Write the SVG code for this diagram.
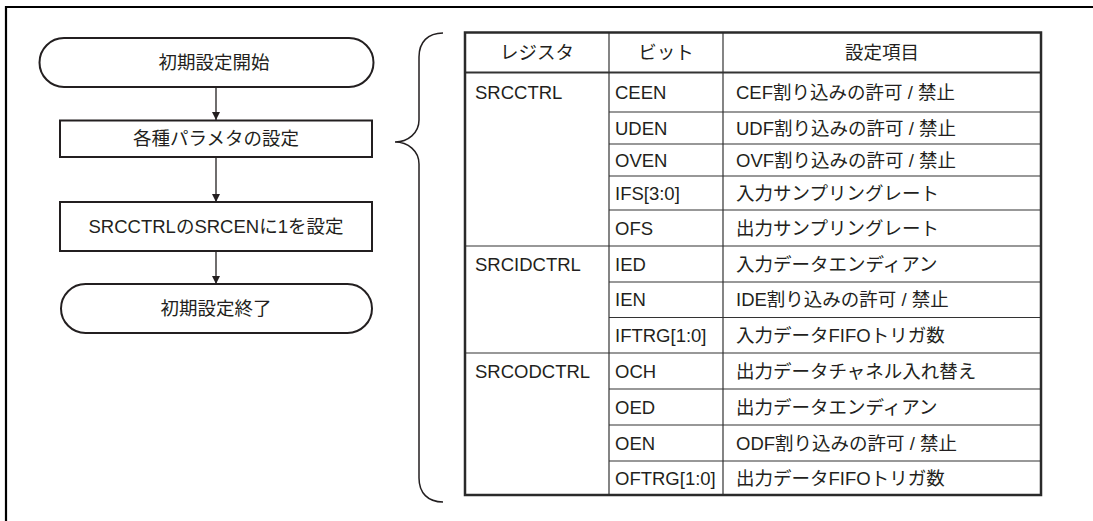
<svg xmlns="http://www.w3.org/2000/svg" width="1093" height="521" viewBox="0 0 1093 521">
<style>
text{font-family:"Liberation Sans","Noto Sans CJK JP",sans-serif;font-size:18.5px;fill:#231f20}
.c{text-anchor:middle}
.shape{fill:#fff;stroke:#231f20;stroke-width:2}
.conn{stroke:#231f20;stroke-width:1.3;fill:none}
.grid{stroke:#333;stroke-width:1.2;fill:none}
.outer{stroke:#2a2a2a;stroke-width:2.5;fill:none}
</style>
<defs>
<marker id="ah" viewBox="0 0 8 10" refX="8" refY="5" markerWidth="8" markerHeight="10" markerUnits="userSpaceOnUse" orient="auto">
<path d="M0,1 L8,5 L0,9 Z" fill="#231f20"/>
</marker>
</defs>
<rect width="1093" height="521" fill="#fff"/>
<path d="M6,521 V7 H1093" fill="none" stroke="#000" stroke-width="2.2"/>

<g id="start">
<rect class="shape" x="39.5" y="38" width="334" height="49" rx="24.5"/>
<text class="c" x="214" y="69">初期設定開始</text>
</g>
<g id="params">
<rect class="shape" x="60" y="120.5" width="312" height="36.5"/>
<text class="c" x="216" y="145">各種パラメタの設定</text>
</g>
<g id="enable">
<rect class="shape" x="60" y="202" width="312" height="49"/>
<text class="c" x="216" y="233">SRCCTRLのSRCENに1を設定</text>
</g>
<g id="end">
<rect class="shape" x="61" y="284" width="311" height="49" rx="24.5"/>
<text class="c" x="216" y="315">初期設定終了</text>
</g>

<g id="connectors">
<line class="conn" x1="216" y1="87" x2="216" y2="120" marker-end="url(#ah)"/>
<line class="conn" x1="216" y1="157" x2="216" y2="202" marker-end="url(#ah)"/>
<line class="conn" x1="216" y1="251" x2="216" y2="284" marker-end="url(#ah)"/>
</g>

<g id="brace">
<path d="M443,33 C428,33 419,42 419,57 V120 C419,133 408,142 395,142 C408,142 419,151 419,164 V478 C419,493 428,502 443,502" fill="none" stroke="#231f20" stroke-width="1.5"/>
</g>

<g id="table">
<g class="grid">
<line x1="465" y1="72.5" x2="1041" y2="72.5" stroke-width="2"/>
<line x1="609" y1="32.5" x2="609" y2="495"/>
<line x1="723" y1="32.5" x2="723" y2="495"/>
<line x1="609" y1="112" x2="1041" y2="112"/>
<line x1="609" y1="144" x2="1041" y2="144"/>
<line x1="609" y1="176" x2="1041" y2="176"/>
<line x1="609" y1="210" x2="1041" y2="210"/>
<line x1="465" y1="246" x2="1041" y2="246"/>
<line x1="609" y1="282" x2="1041" y2="282"/>
<line x1="609" y1="317.5" x2="1041" y2="317.5"/>
<line x1="465" y1="353" x2="1041" y2="353"/>
<line x1="609" y1="389" x2="1041" y2="389"/>
<line x1="609" y1="425" x2="1041" y2="425"/>
<line x1="609" y1="461" x2="1041" y2="461"/>
</g>
<rect class="outer" x="465" y="32.5" width="576" height="462.5"/>

<text class="c" x="537" y="59">レジスタ</text>
<text class="c" x="666" y="59">ビット</text>
<text class="c" x="882" y="59">設定項目</text>

<text x="475" y="99">SRCCTRL</text>
<text x="475" y="270.5">SRCIDCTRL</text>
<text x="475" y="377.5">SRCODCTRL</text>

<text x="615" y="99">CEEN</text>
<text x="615" y="134.5">UDEN</text>
<text x="615" y="166.5">OVEN</text>
<text x="615" y="199.5">IFS[3:0]</text>
<text x="615" y="234.5">OFS</text>
<text x="615" y="270.5">IED</text>
<text x="615" y="306">IEN</text>
<text x="615" y="341.5">IFTRG[1:0]</text>
<text x="615" y="377.5">OCH</text>
<text x="615" y="413.5">OED</text>
<text x="615" y="449.5">OEN</text>
<text x="615" y="484.5">OFTRG[1:0]</text>

<text x="736" y="99">CEF割り込みの許可 / 禁止</text>
<text x="736" y="134.5">UDF割り込みの許可 / 禁止</text>
<text x="736" y="166.5">OVF割り込みの許可 / 禁止</text>
<text x="736" y="199.5">入力サンプリングレート</text>
<text x="736" y="234.5">出力サンプリングレート</text>
<text x="736" y="270.5">入力データエンディアン</text>
<text x="736" y="306">IDE割り込みの許可 / 禁止</text>
<text x="736" y="341.5">入力データFIFOトリガ数</text>
<text x="736" y="377.5">出力データチャネル入れ替え</text>
<text x="736" y="413.5">出力データエンディアン</text>
<text x="736" y="449.5">ODF割り込みの許可 / 禁止</text>
<text x="736" y="484.5">出力データFIFOトリガ数</text>
</g>
</svg>
